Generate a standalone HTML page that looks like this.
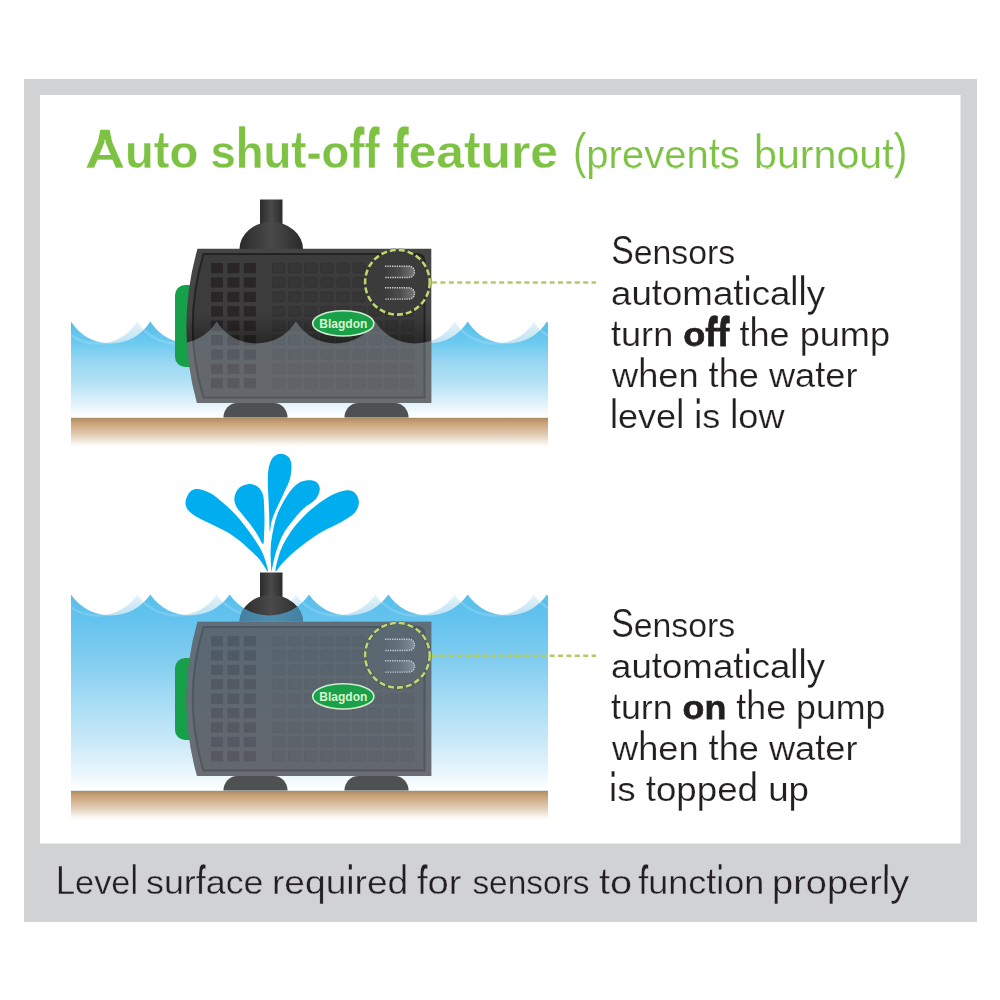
<!DOCTYPE html>
<html><head><meta charset="utf-8"><style>
html,body{margin:0;padding:0;background:#fff;}
svg{display:block;}
</style></head><body>
<svg width="1000" height="1000" viewBox="0 0 1000 1000">
<defs>
<linearGradient id="cyl" x1="0" x2="1" y1="0" y2="0">
 <stop offset="0" stop-color="#2c2c2c"/><stop offset="0.5" stop-color="#4a4a4a"/><stop offset="1" stop-color="#2c2c2c"/>
</linearGradient>
<linearGradient id="dome" x1="0" x2="1" y1="0" y2="0">
 <stop offset="0" stop-color="#2a2a2a"/><stop offset="0.5" stop-color="#4a4a4a"/><stop offset="1" stop-color="#2a2a2a"/>
</linearGradient>
<linearGradient id="bar" x1="0" x2="1" y1="0" y2="0">
 <stop offset="0" stop-color="#3c3c3c"/><stop offset="0.5" stop-color="#4c4c4c"/><stop offset="1" stop-color="#767676"/>
</linearGradient>
<linearGradient id="ground" x1="0" x2="0" y1="0" y2="1">
 <stop offset="0" stop-color="#a48762"/><stop offset="0.07" stop-color="#b8946a"/><stop offset="0.18" stop-color="#c9a275"/><stop offset="0.42" stop-color="#d9bb9c"/><stop offset="0.65" stop-color="#e6d6c3"/><stop offset="0.9" stop-color="#fbf8f4"/><stop offset="1" stop-color="#ffffff"/>
</linearGradient>
<linearGradient id="water1" gradientUnits="userSpaceOnUse" x1="0" x2="0" y1="321" y2="417">
 <stop offset="0" stop-color="#55bdea"/><stop offset="0.24" stop-color="#6ecbf0"/><stop offset="0.41" stop-color="#96d6f2"/><stop offset="0.61" stop-color="#afe0f5"/><stop offset="0.77" stop-color="#cdebf9"/><stop offset="0.93" stop-color="#f0f8fc"/><stop offset="1" stop-color="#ffffff"/>
</linearGradient>
<linearGradient id="water2" gradientUnits="userSpaceOnUse" x1="0" x2="0" y1="594" y2="790">
 <stop offset="0" stop-color="#58bfeb"/><stop offset="0.13" stop-color="#64c3ee"/><stop offset="0.34" stop-color="#82cdf0"/><stop offset="0.54" stop-color="#a5dcf5"/><stop offset="0.745" stop-color="#c8e8f8"/><stop offset="0.9" stop-color="#e6f5fc"/><stop offset="1" stop-color="#ffffff"/>
</linearGradient>
<linearGradient id="ghost1" gradientUnits="userSpaceOnUse" x1="0" x2="0" y1="321" y2="343"><stop offset="0" stop-color="#e6f3f9"/><stop offset="1" stop-color="#bfe2f3"/></linearGradient>
<linearGradient id="ghost2" gradientUnits="userSpaceOnUse" x1="0" x2="0" y1="594" y2="615"><stop offset="0" stop-color="#e6f3f9"/><stop offset="1" stop-color="#bfe2f3"/></linearGradient>
<clipPath id="wclip"><rect x="71" y="0" width="477" height="1000"/></clipPath>
</defs>
<rect x="24" y="79" width="953" height="843" fill="#d1d2d4"/>
<rect x="40" y="95" width="920.5" height="748.5" fill="#ffffff"/>

<rect x="71" y="417.5" width="477" height="30" fill="url(#ground)"/>
<g clip-path="url(#wclip)"><path d="M58.00 321.5 A46.76 46.76 0 0 0 137.33 321.5 A46.76 46.76 0 0 0 216.67 321.5 A46.76 46.76 0 0 0 296.00 321.5 A46.76 46.76 0 0 0 375.33 321.5 A46.76 46.76 0 0 0 454.67 321.5 A46.76 46.76 0 0 0 534.00 321.5 A46.76 46.76 0 0 0 613.33 321.5 L613.33 417.5 L58.00 417.5 Z" fill="url(#ghost1)"/>
<path d="M71.00 321.5 A46.76 46.76 0 0 0 150.33 321.5 A46.76 46.76 0 0 0 229.67 321.5 A46.76 46.76 0 0 0 309.00 321.5 A46.76 46.76 0 0 0 388.33 321.5 A46.76 46.76 0 0 0 467.67 321.5 A46.76 46.76 0 0 0 547.00 321.5 A46.76 46.76 0 0 0 626.33 321.5 L626.33 417.5 L71.00 417.5 Z" fill="url(#water1)"/>
<path d="M58.00 321.5 A46.76 46.76 0 0 0 137.33 321.5 A46.76 46.76 0 0 0 216.67 321.5 A46.76 46.76 0 0 0 296.00 321.5 A46.76 46.76 0 0 0 375.33 321.5 A46.76 46.76 0 0 0 454.67 321.5 A46.76 46.76 0 0 0 534.00 321.5 A46.76 46.76 0 0 0 613.33 321.5" fill="none" stroke="#ffffff" stroke-opacity="0.16" stroke-width="2.5"/></g>
<g transform="translate(0,0)">
<rect x="260" y="199.5" width="22.5" height="32" fill="url(#cyl)"/>
<path d="M239.5 249 A31.75 27 0 0 1 303 249 Z" fill="url(#dome)"/>
<rect x="175" y="285" width="24" height="82" rx="10" ry="10" fill="#17a04a"/>
<path d="M223.5 417.5 A13.5 14.5 0 0 1 237.0 403 L274.0 403 A13.5 14.5 0 0 1 287.5 417.5 Z" fill="#4f5052"/>
<path d="M344.5 417.5 A13.5 14.5 0 0 1 358.0 403 L395.0 403 A13.5 14.5 0 0 1 408.5 417.5 Z" fill="#4f5052"/>
<path d="M197.5 248.7 L431.3 248.7 L431.3 403 L197 403 Q175.5 326 197.5 248.7 Z" fill="#454545"/>
<path d="M203.5 254 L416 254 Q424.5 254 424.5 262 L424.5 397.5 L203.5 397.5 Q182 326 203.5 254 Z" fill="#3c3c3c" stroke="#232323" stroke-width="2"/>
<rect x="211.0" y="263.0" width="12" height="10.2" fill="#2a2627"/>
<rect x="227.4" y="263.0" width="12" height="10.2" fill="#2a2627"/>
<rect x="243.8" y="263.0" width="12" height="10.2" fill="#2a2627"/>
<rect x="272.5" y="263.3" width="12.2" height="9.6" rx="1.2" fill="#363636" stroke="#313131" stroke-width="0.8"/>
<rect x="288.6" y="263.3" width="12.2" height="9.6" rx="1.2" fill="#363636" stroke="#313131" stroke-width="0.8"/>
<rect x="304.7" y="263.3" width="12.2" height="9.6" rx="1.2" fill="#363636" stroke="#313131" stroke-width="0.8"/>
<rect x="320.8" y="263.3" width="12.2" height="9.6" rx="1.2" fill="#363636" stroke="#313131" stroke-width="0.8"/>
<rect x="336.9" y="263.3" width="12.2" height="9.6" rx="1.2" fill="#363636" stroke="#313131" stroke-width="0.8"/>
<rect x="353.0" y="263.3" width="12.2" height="9.6" rx="1.2" fill="#363636" stroke="#313131" stroke-width="0.8"/>
<rect x="369.1" y="263.3" width="12.2" height="9.6" rx="1.2" fill="#363636" stroke="#313131" stroke-width="0.8"/>
<rect x="385.2" y="263.3" width="12.2" height="9.6" rx="1.2" fill="#363636" stroke="#313131" stroke-width="0.8"/>
<rect x="401.3" y="263.3" width="12.2" height="9.6" rx="1.2" fill="#363636" stroke="#313131" stroke-width="0.8"/>
<rect x="211.0" y="277.4" width="12" height="10.2" fill="#2a2627"/>
<rect x="227.4" y="277.4" width="12" height="10.2" fill="#2a2627"/>
<rect x="243.8" y="277.4" width="12" height="10.2" fill="#2a2627"/>
<rect x="272.5" y="277.7" width="12.2" height="9.6" rx="1.2" fill="#363636" stroke="#313131" stroke-width="0.8"/>
<rect x="288.6" y="277.7" width="12.2" height="9.6" rx="1.2" fill="#363636" stroke="#313131" stroke-width="0.8"/>
<rect x="304.7" y="277.7" width="12.2" height="9.6" rx="1.2" fill="#363636" stroke="#313131" stroke-width="0.8"/>
<rect x="320.8" y="277.7" width="12.2" height="9.6" rx="1.2" fill="#363636" stroke="#313131" stroke-width="0.8"/>
<rect x="336.9" y="277.7" width="12.2" height="9.6" rx="1.2" fill="#363636" stroke="#313131" stroke-width="0.8"/>
<rect x="353.0" y="277.7" width="12.2" height="9.6" rx="1.2" fill="#363636" stroke="#313131" stroke-width="0.8"/>
<rect x="369.1" y="277.7" width="12.2" height="9.6" rx="1.2" fill="#363636" stroke="#313131" stroke-width="0.8"/>
<rect x="385.2" y="277.7" width="12.2" height="9.6" rx="1.2" fill="#363636" stroke="#313131" stroke-width="0.8"/>
<rect x="401.3" y="277.7" width="12.2" height="9.6" rx="1.2" fill="#363636" stroke="#313131" stroke-width="0.8"/>
<rect x="211.0" y="291.8" width="12" height="10.2" fill="#2a2627"/>
<rect x="227.4" y="291.8" width="12" height="10.2" fill="#2a2627"/>
<rect x="243.8" y="291.8" width="12" height="10.2" fill="#2a2627"/>
<rect x="272.5" y="292.1" width="12.2" height="9.6" rx="1.2" fill="#363636" stroke="#313131" stroke-width="0.8"/>
<rect x="288.6" y="292.1" width="12.2" height="9.6" rx="1.2" fill="#363636" stroke="#313131" stroke-width="0.8"/>
<rect x="304.7" y="292.1" width="12.2" height="9.6" rx="1.2" fill="#363636" stroke="#313131" stroke-width="0.8"/>
<rect x="320.8" y="292.1" width="12.2" height="9.6" rx="1.2" fill="#363636" stroke="#313131" stroke-width="0.8"/>
<rect x="336.9" y="292.1" width="12.2" height="9.6" rx="1.2" fill="#363636" stroke="#313131" stroke-width="0.8"/>
<rect x="353.0" y="292.1" width="12.2" height="9.6" rx="1.2" fill="#363636" stroke="#313131" stroke-width="0.8"/>
<rect x="369.1" y="292.1" width="12.2" height="9.6" rx="1.2" fill="#363636" stroke="#313131" stroke-width="0.8"/>
<rect x="385.2" y="292.1" width="12.2" height="9.6" rx="1.2" fill="#363636" stroke="#313131" stroke-width="0.8"/>
<rect x="401.3" y="292.1" width="12.2" height="9.6" rx="1.2" fill="#363636" stroke="#313131" stroke-width="0.8"/>
<rect x="211.0" y="306.2" width="12" height="10.2" fill="#2a2627"/>
<rect x="227.4" y="306.2" width="12" height="10.2" fill="#2a2627"/>
<rect x="243.8" y="306.2" width="12" height="10.2" fill="#2a2627"/>
<rect x="272.5" y="306.5" width="12.2" height="9.6" rx="1.2" fill="#363636" stroke="#313131" stroke-width="0.8"/>
<rect x="288.6" y="306.5" width="12.2" height="9.6" rx="1.2" fill="#363636" stroke="#313131" stroke-width="0.8"/>
<rect x="304.7" y="306.5" width="12.2" height="9.6" rx="1.2" fill="#363636" stroke="#313131" stroke-width="0.8"/>
<rect x="320.8" y="306.5" width="12.2" height="9.6" rx="1.2" fill="#363636" stroke="#313131" stroke-width="0.8"/>
<rect x="336.9" y="306.5" width="12.2" height="9.6" rx="1.2" fill="#363636" stroke="#313131" stroke-width="0.8"/>
<rect x="353.0" y="306.5" width="12.2" height="9.6" rx="1.2" fill="#363636" stroke="#313131" stroke-width="0.8"/>
<rect x="369.1" y="306.5" width="12.2" height="9.6" rx="1.2" fill="#363636" stroke="#313131" stroke-width="0.8"/>
<rect x="385.2" y="306.5" width="12.2" height="9.6" rx="1.2" fill="#363636" stroke="#313131" stroke-width="0.8"/>
<rect x="401.3" y="306.5" width="12.2" height="9.6" rx="1.2" fill="#363636" stroke="#313131" stroke-width="0.8"/>
<rect x="211.0" y="320.6" width="12" height="10.2" fill="#2a2627"/>
<rect x="227.4" y="320.6" width="12" height="10.2" fill="#2a2627"/>
<rect x="243.8" y="320.6" width="12" height="10.2" fill="#2a2627"/>
<rect x="272.5" y="320.9" width="12.2" height="9.6" rx="1.2" fill="#363636" stroke="#313131" stroke-width="0.8"/>
<rect x="288.6" y="320.9" width="12.2" height="9.6" rx="1.2" fill="#363636" stroke="#313131" stroke-width="0.8"/>
<rect x="304.7" y="320.9" width="12.2" height="9.6" rx="1.2" fill="#363636" stroke="#313131" stroke-width="0.8"/>
<rect x="320.8" y="320.9" width="12.2" height="9.6" rx="1.2" fill="#363636" stroke="#313131" stroke-width="0.8"/>
<rect x="336.9" y="320.9" width="12.2" height="9.6" rx="1.2" fill="#363636" stroke="#313131" stroke-width="0.8"/>
<rect x="353.0" y="320.9" width="12.2" height="9.6" rx="1.2" fill="#363636" stroke="#313131" stroke-width="0.8"/>
<rect x="369.1" y="320.9" width="12.2" height="9.6" rx="1.2" fill="#363636" stroke="#313131" stroke-width="0.8"/>
<rect x="385.2" y="320.9" width="12.2" height="9.6" rx="1.2" fill="#363636" stroke="#313131" stroke-width="0.8"/>
<rect x="401.3" y="320.9" width="12.2" height="9.6" rx="1.2" fill="#363636" stroke="#313131" stroke-width="0.8"/>
<rect x="211.0" y="335.0" width="12" height="10.2" fill="#2a2627"/>
<rect x="227.4" y="335.0" width="12" height="10.2" fill="#2a2627"/>
<rect x="243.8" y="335.0" width="12" height="10.2" fill="#2a2627"/>
<rect x="272.5" y="335.3" width="12.2" height="9.6" rx="1.2" fill="#363636" stroke="#313131" stroke-width="0.8"/>
<rect x="288.6" y="335.3" width="12.2" height="9.6" rx="1.2" fill="#363636" stroke="#313131" stroke-width="0.8"/>
<rect x="304.7" y="335.3" width="12.2" height="9.6" rx="1.2" fill="#363636" stroke="#313131" stroke-width="0.8"/>
<rect x="320.8" y="335.3" width="12.2" height="9.6" rx="1.2" fill="#363636" stroke="#313131" stroke-width="0.8"/>
<rect x="336.9" y="335.3" width="12.2" height="9.6" rx="1.2" fill="#363636" stroke="#313131" stroke-width="0.8"/>
<rect x="353.0" y="335.3" width="12.2" height="9.6" rx="1.2" fill="#363636" stroke="#313131" stroke-width="0.8"/>
<rect x="369.1" y="335.3" width="12.2" height="9.6" rx="1.2" fill="#363636" stroke="#313131" stroke-width="0.8"/>
<rect x="385.2" y="335.3" width="12.2" height="9.6" rx="1.2" fill="#363636" stroke="#313131" stroke-width="0.8"/>
<rect x="401.3" y="335.3" width="12.2" height="9.6" rx="1.2" fill="#363636" stroke="#313131" stroke-width="0.8"/>
<rect x="211.0" y="349.4" width="12" height="10.2" fill="#2a2627"/>
<rect x="227.4" y="349.4" width="12" height="10.2" fill="#2a2627"/>
<rect x="243.8" y="349.4" width="12" height="10.2" fill="#2a2627"/>
<rect x="272.5" y="349.7" width="12.2" height="9.6" rx="1.2" fill="#363636" stroke="#313131" stroke-width="0.8"/>
<rect x="288.6" y="349.7" width="12.2" height="9.6" rx="1.2" fill="#363636" stroke="#313131" stroke-width="0.8"/>
<rect x="304.7" y="349.7" width="12.2" height="9.6" rx="1.2" fill="#363636" stroke="#313131" stroke-width="0.8"/>
<rect x="320.8" y="349.7" width="12.2" height="9.6" rx="1.2" fill="#363636" stroke="#313131" stroke-width="0.8"/>
<rect x="336.9" y="349.7" width="12.2" height="9.6" rx="1.2" fill="#363636" stroke="#313131" stroke-width="0.8"/>
<rect x="353.0" y="349.7" width="12.2" height="9.6" rx="1.2" fill="#363636" stroke="#313131" stroke-width="0.8"/>
<rect x="369.1" y="349.7" width="12.2" height="9.6" rx="1.2" fill="#363636" stroke="#313131" stroke-width="0.8"/>
<rect x="385.2" y="349.7" width="12.2" height="9.6" rx="1.2" fill="#363636" stroke="#313131" stroke-width="0.8"/>
<rect x="401.3" y="349.7" width="12.2" height="9.6" rx="1.2" fill="#363636" stroke="#313131" stroke-width="0.8"/>
<rect x="211.0" y="363.8" width="12" height="10.2" fill="#2a2627"/>
<rect x="227.4" y="363.8" width="12" height="10.2" fill="#2a2627"/>
<rect x="243.8" y="363.8" width="12" height="10.2" fill="#2a2627"/>
<rect x="272.5" y="364.1" width="12.2" height="9.6" rx="1.2" fill="#363636" stroke="#313131" stroke-width="0.8"/>
<rect x="288.6" y="364.1" width="12.2" height="9.6" rx="1.2" fill="#363636" stroke="#313131" stroke-width="0.8"/>
<rect x="304.7" y="364.1" width="12.2" height="9.6" rx="1.2" fill="#363636" stroke="#313131" stroke-width="0.8"/>
<rect x="320.8" y="364.1" width="12.2" height="9.6" rx="1.2" fill="#363636" stroke="#313131" stroke-width="0.8"/>
<rect x="336.9" y="364.1" width="12.2" height="9.6" rx="1.2" fill="#363636" stroke="#313131" stroke-width="0.8"/>
<rect x="353.0" y="364.1" width="12.2" height="9.6" rx="1.2" fill="#363636" stroke="#313131" stroke-width="0.8"/>
<rect x="369.1" y="364.1" width="12.2" height="9.6" rx="1.2" fill="#363636" stroke="#313131" stroke-width="0.8"/>
<rect x="385.2" y="364.1" width="12.2" height="9.6" rx="1.2" fill="#363636" stroke="#313131" stroke-width="0.8"/>
<rect x="401.3" y="364.1" width="12.2" height="9.6" rx="1.2" fill="#363636" stroke="#313131" stroke-width="0.8"/>
<rect x="211.0" y="378.2" width="12" height="10.2" fill="#2a2627"/>
<rect x="227.4" y="378.2" width="12" height="10.2" fill="#2a2627"/>
<rect x="243.8" y="378.2" width="12" height="10.2" fill="#2a2627"/>
<rect x="272.5" y="378.5" width="12.2" height="9.6" rx="1.2" fill="#363636" stroke="#313131" stroke-width="0.8"/>
<rect x="288.6" y="378.5" width="12.2" height="9.6" rx="1.2" fill="#363636" stroke="#313131" stroke-width="0.8"/>
<rect x="304.7" y="378.5" width="12.2" height="9.6" rx="1.2" fill="#363636" stroke="#313131" stroke-width="0.8"/>
<rect x="320.8" y="378.5" width="12.2" height="9.6" rx="1.2" fill="#363636" stroke="#313131" stroke-width="0.8"/>
<rect x="336.9" y="378.5" width="12.2" height="9.6" rx="1.2" fill="#363636" stroke="#313131" stroke-width="0.8"/>
<rect x="353.0" y="378.5" width="12.2" height="9.6" rx="1.2" fill="#363636" stroke="#313131" stroke-width="0.8"/>
<rect x="369.1" y="378.5" width="12.2" height="9.6" rx="1.2" fill="#363636" stroke="#313131" stroke-width="0.8"/>
<rect x="385.2" y="378.5" width="12.2" height="9.6" rx="1.2" fill="#363636" stroke="#313131" stroke-width="0.8"/>
<rect x="401.3" y="378.5" width="12.2" height="9.6" rx="1.2" fill="#363636" stroke="#313131" stroke-width="0.8"/>
<circle cx="397.4" cy="282.3" r="31" fill="#3b3b3b"/>
<path d="M385 266.2 L408.9 266.2 A5.65 5.65 0 0 1 408.9 277.5 L385 277.5 Z" fill="url(#bar)"/>
<path d="M385 266.2 L408.9 266.2 A5.65 5.65 0 0 1 408.9 277.5 L385 277.5" fill="none" stroke="#d4d4d4" stroke-width="1.4" stroke-dasharray="1.3 1.05"/>
<path d="M385 287.8 L408.9 287.8 A5.65 5.65 0 0 1 408.9 299.1 L385 299.1 Z" fill="url(#bar)"/>
<path d="M385 287.8 L408.9 287.8 A5.65 5.65 0 0 1 408.9 299.1 L385 299.1" fill="none" stroke="#d4d4d4" stroke-width="1.4" stroke-dasharray="1.3 1.05"/>
</g>
<clipPath id="bclip0"><path transform="translate(0,0)" d="M197.5 248.7 L431.3 248.7 L431.3 403 L197 403 Q175.5 326 197.5 248.7 Z"/></clipPath>
<clipPath id="dclip0"><path transform="translate(0,0)" d="M239.5 249 A31.75 27 0 0 1 303 249 Z"/></clipPath>
<linearGradient id="shad0" gradientUnits="userSpaceOnUse" x1="0" x2="0" y1="313.5" y2="343.5"><stop offset="0" stop-color="#000" stop-opacity="0"/><stop offset="1" stop-color="#000" stop-opacity="0.32"/></linearGradient>
<path clip-path="url(#bclip0)" fill-rule="evenodd" d="M150 311.5 L500 311.5 L500 344.0 L150 344.0 Z M137.33 321.5 A46.76 46.76 0 0 0 216.67 321.5 A46.76 46.76 0 0 0 296.00 321.5 A46.76 46.76 0 0 0 375.33 321.5 A46.76 46.76 0 0 0 454.67 321.5 A46.76 46.76 0 0 0 534.00 321.5 L534.00 344.0 L137.33 344.0 Z" fill="url(#shad0)"/>
<linearGradient id="ovg0" gradientUnits="userSpaceOnUse" x1="0" x2="0" y1="321.5" y2="403"><stop offset="0" stop-color="rgb(168,190,205)"/><stop offset="1" stop-color="rgb(180,186,200)"/></linearGradient>
<path clip-path="url(#bclip0)" d="M137.33 321.5 A46.76 46.76 0 0 0 216.67 321.5 A46.76 46.76 0 0 0 296.00 321.5 A46.76 46.76 0 0 0 375.33 321.5 A46.76 46.76 0 0 0 454.67 321.5 A46.76 46.76 0 0 0 534.00 321.5 L534.00 410 L137.33 410 Z" fill="url(#ovg0)" fill-opacity="0.34"/>
<path clip-path="url(#dclip0)" d="M71.00 321.5 A46.76 46.76 0 0 0 150.33 321.5 A46.76 46.76 0 0 0 229.67 321.5 A46.76 46.76 0 0 0 309.00 321.5 A46.76 46.76 0 0 0 388.33 321.5 A46.76 46.76 0 0 0 467.67 321.5 A46.76 46.76 0 0 0 547.00 321.5 L547.00 410 L71.00 410 Z" fill="rgb(83,183,237)" fill-opacity="0.62"/>
<g transform="translate(0,0)">
<ellipse cx="343.3" cy="323.4" rx="30.6" ry="12.6" fill="#1aa048" stroke="#cdeccd" stroke-width="1.6"/>
<text x="343.3" y="328" font-family="Liberation Sans, sans-serif" font-weight="bold" font-size="12.5" fill="#d8f5cf" text-anchor="middle" textLength="48" lengthAdjust="spacingAndGlyphs">Blagdon</text>
<circle cx="397.4" cy="282.3" r="32.3" fill="none" stroke="#2a2d22" stroke-width="3.6" stroke-dasharray="6.6 2.42" stroke-dashoffset="0.3" stroke-opacity="0.5"/>
<circle cx="397.4" cy="282.3" r="32.3" fill="none" stroke="#bfd672" stroke-width="2.6" stroke-dasharray="6 3.02"/>
</g>
<rect x="71" y="790.5" width="477" height="30" fill="url(#ground)"/>
<g clip-path="url(#wclip)"><path d="M58.00 594.5 A47.96 47.96 0 0 0 137.33 594.5 A47.96 47.96 0 0 0 216.67 594.5 A47.96 47.96 0 0 0 296.00 594.5 A47.96 47.96 0 0 0 375.33 594.5 A47.96 47.96 0 0 0 454.67 594.5 A47.96 47.96 0 0 0 534.00 594.5 A47.96 47.96 0 0 0 613.33 594.5 L613.33 790.5 L58.00 790.5 Z" fill="url(#ghost2)"/>
<path d="M71.00 594.5 A47.96 47.96 0 0 0 150.33 594.5 A47.96 47.96 0 0 0 229.67 594.5 A47.96 47.96 0 0 0 309.00 594.5 A47.96 47.96 0 0 0 388.33 594.5 A47.96 47.96 0 0 0 467.67 594.5 A47.96 47.96 0 0 0 547.00 594.5 A47.96 47.96 0 0 0 626.33 594.5 L626.33 790.5 L71.00 790.5 Z" fill="url(#water2)"/>
<path d="M58.00 594.5 A47.96 47.96 0 0 0 137.33 594.5 A47.96 47.96 0 0 0 216.67 594.5 A47.96 47.96 0 0 0 296.00 594.5 A47.96 47.96 0 0 0 375.33 594.5 A47.96 47.96 0 0 0 454.67 594.5 A47.96 47.96 0 0 0 534.00 594.5 A47.96 47.96 0 0 0 613.33 594.5" fill="none" stroke="#ffffff" stroke-opacity="0.16" stroke-width="2.5"/></g>
<g transform="translate(0,373)">
<rect x="260" y="199.5" width="22.5" height="32" fill="url(#cyl)"/>
<path d="M239.5 249 A31.75 27 0 0 1 303 249 Z" fill="url(#dome)"/>
<rect x="175" y="285" width="24" height="82" rx="10" ry="10" fill="#17a04a"/>
<path d="M223.5 417.5 A13.5 14.5 0 0 1 237.0 403 L274.0 403 A13.5 14.5 0 0 1 287.5 417.5 Z" fill="#4f5052"/>
<path d="M344.5 417.5 A13.5 14.5 0 0 1 358.0 403 L395.0 403 A13.5 14.5 0 0 1 408.5 417.5 Z" fill="#4f5052"/>
<path d="M197.5 248.7 L431.3 248.7 L431.3 403 L197 403 Q175.5 326 197.5 248.7 Z" fill="#454545"/>
<path d="M203.5 254 L416 254 Q424.5 254 424.5 262 L424.5 397.5 L203.5 397.5 Q182 326 203.5 254 Z" fill="#3c3c3c" stroke="#232323" stroke-width="2"/>
<rect x="211.0" y="263.0" width="12" height="10.2" fill="#2a2627"/>
<rect x="227.4" y="263.0" width="12" height="10.2" fill="#2a2627"/>
<rect x="243.8" y="263.0" width="12" height="10.2" fill="#2a2627"/>
<rect x="272.5" y="263.3" width="12.2" height="9.6" rx="1.2" fill="#363636" stroke="#313131" stroke-width="0.8"/>
<rect x="288.6" y="263.3" width="12.2" height="9.6" rx="1.2" fill="#363636" stroke="#313131" stroke-width="0.8"/>
<rect x="304.7" y="263.3" width="12.2" height="9.6" rx="1.2" fill="#363636" stroke="#313131" stroke-width="0.8"/>
<rect x="320.8" y="263.3" width="12.2" height="9.6" rx="1.2" fill="#363636" stroke="#313131" stroke-width="0.8"/>
<rect x="336.9" y="263.3" width="12.2" height="9.6" rx="1.2" fill="#363636" stroke="#313131" stroke-width="0.8"/>
<rect x="353.0" y="263.3" width="12.2" height="9.6" rx="1.2" fill="#363636" stroke="#313131" stroke-width="0.8"/>
<rect x="369.1" y="263.3" width="12.2" height="9.6" rx="1.2" fill="#363636" stroke="#313131" stroke-width="0.8"/>
<rect x="385.2" y="263.3" width="12.2" height="9.6" rx="1.2" fill="#363636" stroke="#313131" stroke-width="0.8"/>
<rect x="401.3" y="263.3" width="12.2" height="9.6" rx="1.2" fill="#363636" stroke="#313131" stroke-width="0.8"/>
<rect x="211.0" y="277.4" width="12" height="10.2" fill="#2a2627"/>
<rect x="227.4" y="277.4" width="12" height="10.2" fill="#2a2627"/>
<rect x="243.8" y="277.4" width="12" height="10.2" fill="#2a2627"/>
<rect x="272.5" y="277.7" width="12.2" height="9.6" rx="1.2" fill="#363636" stroke="#313131" stroke-width="0.8"/>
<rect x="288.6" y="277.7" width="12.2" height="9.6" rx="1.2" fill="#363636" stroke="#313131" stroke-width="0.8"/>
<rect x="304.7" y="277.7" width="12.2" height="9.6" rx="1.2" fill="#363636" stroke="#313131" stroke-width="0.8"/>
<rect x="320.8" y="277.7" width="12.2" height="9.6" rx="1.2" fill="#363636" stroke="#313131" stroke-width="0.8"/>
<rect x="336.9" y="277.7" width="12.2" height="9.6" rx="1.2" fill="#363636" stroke="#313131" stroke-width="0.8"/>
<rect x="353.0" y="277.7" width="12.2" height="9.6" rx="1.2" fill="#363636" stroke="#313131" stroke-width="0.8"/>
<rect x="369.1" y="277.7" width="12.2" height="9.6" rx="1.2" fill="#363636" stroke="#313131" stroke-width="0.8"/>
<rect x="385.2" y="277.7" width="12.2" height="9.6" rx="1.2" fill="#363636" stroke="#313131" stroke-width="0.8"/>
<rect x="401.3" y="277.7" width="12.2" height="9.6" rx="1.2" fill="#363636" stroke="#313131" stroke-width="0.8"/>
<rect x="211.0" y="291.8" width="12" height="10.2" fill="#2a2627"/>
<rect x="227.4" y="291.8" width="12" height="10.2" fill="#2a2627"/>
<rect x="243.8" y="291.8" width="12" height="10.2" fill="#2a2627"/>
<rect x="272.5" y="292.1" width="12.2" height="9.6" rx="1.2" fill="#363636" stroke="#313131" stroke-width="0.8"/>
<rect x="288.6" y="292.1" width="12.2" height="9.6" rx="1.2" fill="#363636" stroke="#313131" stroke-width="0.8"/>
<rect x="304.7" y="292.1" width="12.2" height="9.6" rx="1.2" fill="#363636" stroke="#313131" stroke-width="0.8"/>
<rect x="320.8" y="292.1" width="12.2" height="9.6" rx="1.2" fill="#363636" stroke="#313131" stroke-width="0.8"/>
<rect x="336.9" y="292.1" width="12.2" height="9.6" rx="1.2" fill="#363636" stroke="#313131" stroke-width="0.8"/>
<rect x="353.0" y="292.1" width="12.2" height="9.6" rx="1.2" fill="#363636" stroke="#313131" stroke-width="0.8"/>
<rect x="369.1" y="292.1" width="12.2" height="9.6" rx="1.2" fill="#363636" stroke="#313131" stroke-width="0.8"/>
<rect x="385.2" y="292.1" width="12.2" height="9.6" rx="1.2" fill="#363636" stroke="#313131" stroke-width="0.8"/>
<rect x="401.3" y="292.1" width="12.2" height="9.6" rx="1.2" fill="#363636" stroke="#313131" stroke-width="0.8"/>
<rect x="211.0" y="306.2" width="12" height="10.2" fill="#2a2627"/>
<rect x="227.4" y="306.2" width="12" height="10.2" fill="#2a2627"/>
<rect x="243.8" y="306.2" width="12" height="10.2" fill="#2a2627"/>
<rect x="272.5" y="306.5" width="12.2" height="9.6" rx="1.2" fill="#363636" stroke="#313131" stroke-width="0.8"/>
<rect x="288.6" y="306.5" width="12.2" height="9.6" rx="1.2" fill="#363636" stroke="#313131" stroke-width="0.8"/>
<rect x="304.7" y="306.5" width="12.2" height="9.6" rx="1.2" fill="#363636" stroke="#313131" stroke-width="0.8"/>
<rect x="320.8" y="306.5" width="12.2" height="9.6" rx="1.2" fill="#363636" stroke="#313131" stroke-width="0.8"/>
<rect x="336.9" y="306.5" width="12.2" height="9.6" rx="1.2" fill="#363636" stroke="#313131" stroke-width="0.8"/>
<rect x="353.0" y="306.5" width="12.2" height="9.6" rx="1.2" fill="#363636" stroke="#313131" stroke-width="0.8"/>
<rect x="369.1" y="306.5" width="12.2" height="9.6" rx="1.2" fill="#363636" stroke="#313131" stroke-width="0.8"/>
<rect x="385.2" y="306.5" width="12.2" height="9.6" rx="1.2" fill="#363636" stroke="#313131" stroke-width="0.8"/>
<rect x="401.3" y="306.5" width="12.2" height="9.6" rx="1.2" fill="#363636" stroke="#313131" stroke-width="0.8"/>
<rect x="211.0" y="320.6" width="12" height="10.2" fill="#2a2627"/>
<rect x="227.4" y="320.6" width="12" height="10.2" fill="#2a2627"/>
<rect x="243.8" y="320.6" width="12" height="10.2" fill="#2a2627"/>
<rect x="272.5" y="320.9" width="12.2" height="9.6" rx="1.2" fill="#363636" stroke="#313131" stroke-width="0.8"/>
<rect x="288.6" y="320.9" width="12.2" height="9.6" rx="1.2" fill="#363636" stroke="#313131" stroke-width="0.8"/>
<rect x="304.7" y="320.9" width="12.2" height="9.6" rx="1.2" fill="#363636" stroke="#313131" stroke-width="0.8"/>
<rect x="320.8" y="320.9" width="12.2" height="9.6" rx="1.2" fill="#363636" stroke="#313131" stroke-width="0.8"/>
<rect x="336.9" y="320.9" width="12.2" height="9.6" rx="1.2" fill="#363636" stroke="#313131" stroke-width="0.8"/>
<rect x="353.0" y="320.9" width="12.2" height="9.6" rx="1.2" fill="#363636" stroke="#313131" stroke-width="0.8"/>
<rect x="369.1" y="320.9" width="12.2" height="9.6" rx="1.2" fill="#363636" stroke="#313131" stroke-width="0.8"/>
<rect x="385.2" y="320.9" width="12.2" height="9.6" rx="1.2" fill="#363636" stroke="#313131" stroke-width="0.8"/>
<rect x="401.3" y="320.9" width="12.2" height="9.6" rx="1.2" fill="#363636" stroke="#313131" stroke-width="0.8"/>
<rect x="211.0" y="335.0" width="12" height="10.2" fill="#2a2627"/>
<rect x="227.4" y="335.0" width="12" height="10.2" fill="#2a2627"/>
<rect x="243.8" y="335.0" width="12" height="10.2" fill="#2a2627"/>
<rect x="272.5" y="335.3" width="12.2" height="9.6" rx="1.2" fill="#363636" stroke="#313131" stroke-width="0.8"/>
<rect x="288.6" y="335.3" width="12.2" height="9.6" rx="1.2" fill="#363636" stroke="#313131" stroke-width="0.8"/>
<rect x="304.7" y="335.3" width="12.2" height="9.6" rx="1.2" fill="#363636" stroke="#313131" stroke-width="0.8"/>
<rect x="320.8" y="335.3" width="12.2" height="9.6" rx="1.2" fill="#363636" stroke="#313131" stroke-width="0.8"/>
<rect x="336.9" y="335.3" width="12.2" height="9.6" rx="1.2" fill="#363636" stroke="#313131" stroke-width="0.8"/>
<rect x="353.0" y="335.3" width="12.2" height="9.6" rx="1.2" fill="#363636" stroke="#313131" stroke-width="0.8"/>
<rect x="369.1" y="335.3" width="12.2" height="9.6" rx="1.2" fill="#363636" stroke="#313131" stroke-width="0.8"/>
<rect x="385.2" y="335.3" width="12.2" height="9.6" rx="1.2" fill="#363636" stroke="#313131" stroke-width="0.8"/>
<rect x="401.3" y="335.3" width="12.2" height="9.6" rx="1.2" fill="#363636" stroke="#313131" stroke-width="0.8"/>
<rect x="211.0" y="349.4" width="12" height="10.2" fill="#2a2627"/>
<rect x="227.4" y="349.4" width="12" height="10.2" fill="#2a2627"/>
<rect x="243.8" y="349.4" width="12" height="10.2" fill="#2a2627"/>
<rect x="272.5" y="349.7" width="12.2" height="9.6" rx="1.2" fill="#363636" stroke="#313131" stroke-width="0.8"/>
<rect x="288.6" y="349.7" width="12.2" height="9.6" rx="1.2" fill="#363636" stroke="#313131" stroke-width="0.8"/>
<rect x="304.7" y="349.7" width="12.2" height="9.6" rx="1.2" fill="#363636" stroke="#313131" stroke-width="0.8"/>
<rect x="320.8" y="349.7" width="12.2" height="9.6" rx="1.2" fill="#363636" stroke="#313131" stroke-width="0.8"/>
<rect x="336.9" y="349.7" width="12.2" height="9.6" rx="1.2" fill="#363636" stroke="#313131" stroke-width="0.8"/>
<rect x="353.0" y="349.7" width="12.2" height="9.6" rx="1.2" fill="#363636" stroke="#313131" stroke-width="0.8"/>
<rect x="369.1" y="349.7" width="12.2" height="9.6" rx="1.2" fill="#363636" stroke="#313131" stroke-width="0.8"/>
<rect x="385.2" y="349.7" width="12.2" height="9.6" rx="1.2" fill="#363636" stroke="#313131" stroke-width="0.8"/>
<rect x="401.3" y="349.7" width="12.2" height="9.6" rx="1.2" fill="#363636" stroke="#313131" stroke-width="0.8"/>
<rect x="211.0" y="363.8" width="12" height="10.2" fill="#2a2627"/>
<rect x="227.4" y="363.8" width="12" height="10.2" fill="#2a2627"/>
<rect x="243.8" y="363.8" width="12" height="10.2" fill="#2a2627"/>
<rect x="272.5" y="364.1" width="12.2" height="9.6" rx="1.2" fill="#363636" stroke="#313131" stroke-width="0.8"/>
<rect x="288.6" y="364.1" width="12.2" height="9.6" rx="1.2" fill="#363636" stroke="#313131" stroke-width="0.8"/>
<rect x="304.7" y="364.1" width="12.2" height="9.6" rx="1.2" fill="#363636" stroke="#313131" stroke-width="0.8"/>
<rect x="320.8" y="364.1" width="12.2" height="9.6" rx="1.2" fill="#363636" stroke="#313131" stroke-width="0.8"/>
<rect x="336.9" y="364.1" width="12.2" height="9.6" rx="1.2" fill="#363636" stroke="#313131" stroke-width="0.8"/>
<rect x="353.0" y="364.1" width="12.2" height="9.6" rx="1.2" fill="#363636" stroke="#313131" stroke-width="0.8"/>
<rect x="369.1" y="364.1" width="12.2" height="9.6" rx="1.2" fill="#363636" stroke="#313131" stroke-width="0.8"/>
<rect x="385.2" y="364.1" width="12.2" height="9.6" rx="1.2" fill="#363636" stroke="#313131" stroke-width="0.8"/>
<rect x="401.3" y="364.1" width="12.2" height="9.6" rx="1.2" fill="#363636" stroke="#313131" stroke-width="0.8"/>
<rect x="211.0" y="378.2" width="12" height="10.2" fill="#2a2627"/>
<rect x="227.4" y="378.2" width="12" height="10.2" fill="#2a2627"/>
<rect x="243.8" y="378.2" width="12" height="10.2" fill="#2a2627"/>
<rect x="272.5" y="378.5" width="12.2" height="9.6" rx="1.2" fill="#363636" stroke="#313131" stroke-width="0.8"/>
<rect x="288.6" y="378.5" width="12.2" height="9.6" rx="1.2" fill="#363636" stroke="#313131" stroke-width="0.8"/>
<rect x="304.7" y="378.5" width="12.2" height="9.6" rx="1.2" fill="#363636" stroke="#313131" stroke-width="0.8"/>
<rect x="320.8" y="378.5" width="12.2" height="9.6" rx="1.2" fill="#363636" stroke="#313131" stroke-width="0.8"/>
<rect x="336.9" y="378.5" width="12.2" height="9.6" rx="1.2" fill="#363636" stroke="#313131" stroke-width="0.8"/>
<rect x="353.0" y="378.5" width="12.2" height="9.6" rx="1.2" fill="#363636" stroke="#313131" stroke-width="0.8"/>
<rect x="369.1" y="378.5" width="12.2" height="9.6" rx="1.2" fill="#363636" stroke="#313131" stroke-width="0.8"/>
<rect x="385.2" y="378.5" width="12.2" height="9.6" rx="1.2" fill="#363636" stroke="#313131" stroke-width="0.8"/>
<rect x="401.3" y="378.5" width="12.2" height="9.6" rx="1.2" fill="#363636" stroke="#313131" stroke-width="0.8"/>
<circle cx="397.4" cy="282.3" r="31" fill="#3b3b3b"/>
<path d="M385 266.2 L408.9 266.2 A5.65 5.65 0 0 1 408.9 277.5 L385 277.5 Z" fill="url(#bar)"/>
<path d="M385 266.2 L408.9 266.2 A5.65 5.65 0 0 1 408.9 277.5 L385 277.5" fill="none" stroke="#d4d4d4" stroke-width="1.4" stroke-dasharray="1.3 1.05"/>
<path d="M385 287.8 L408.9 287.8 A5.65 5.65 0 0 1 408.9 299.1 L385 299.1 Z" fill="url(#bar)"/>
<path d="M385 287.8 L408.9 287.8 A5.65 5.65 0 0 1 408.9 299.1 L385 299.1" fill="none" stroke="#d4d4d4" stroke-width="1.4" stroke-dasharray="1.3 1.05"/>
</g>
<clipPath id="bclip373"><path transform="translate(0,373)" d="M197.5 248.7 L431.3 248.7 L431.3 403 L197 403 Q175.5 326 197.5 248.7 Z"/></clipPath>
<clipPath id="dclip373"><path transform="translate(0,373)" d="M239.5 249 A31.75 27 0 0 1 303 249 Z"/></clipPath>
<linearGradient id="ovg373" gradientUnits="userSpaceOnUse" x1="0" x2="0" y1="594.5" y2="776"><stop offset="0" stop-color="rgb(140,192,224)"/><stop offset="1" stop-color="rgb(178,186,206)"/></linearGradient>
<path clip-path="url(#bclip373)" d="M137.33 594.5 A47.96 47.96 0 0 0 216.67 594.5 A47.96 47.96 0 0 0 296.00 594.5 A47.96 47.96 0 0 0 375.33 594.5 A47.96 47.96 0 0 0 454.67 594.5 A47.96 47.96 0 0 0 534.00 594.5 L534.00 783 L137.33 783 Z" fill="url(#ovg373)" fill-opacity="0.34"/>
<path clip-path="url(#dclip373)" d="M71.00 594.5 A47.96 47.96 0 0 0 150.33 594.5 A47.96 47.96 0 0 0 229.67 594.5 A47.96 47.96 0 0 0 309.00 594.5 A47.96 47.96 0 0 0 388.33 594.5 A47.96 47.96 0 0 0 467.67 594.5 A47.96 47.96 0 0 0 547.00 594.5 L547.00 783 L71.00 783 Z" fill="rgb(83,183,237)" fill-opacity="0.62"/>
<g transform="translate(0,373)">
<ellipse cx="343.3" cy="323.4" rx="30.6" ry="12.6" fill="#1aa048" stroke="#cdeccd" stroke-width="1.6"/>
<text x="343.3" y="328" font-family="Liberation Sans, sans-serif" font-weight="bold" font-size="12.5" fill="#d8f5cf" text-anchor="middle" textLength="48" lengthAdjust="spacingAndGlyphs">Blagdon</text>
<circle cx="397.4" cy="282.3" r="32.3" fill="none" stroke="#2a2d22" stroke-width="3.6" stroke-dasharray="6.6 2.42" stroke-dashoffset="0.3" stroke-opacity="0.5"/>
<circle cx="397.4" cy="282.3" r="32.3" fill="none" stroke="#bfd672" stroke-width="2.6" stroke-dasharray="6 3.02"/>
</g>
<path d="M268.00 571.50 C268.50 570.50 265.17 559.25 263.00 554.00 C260.83 548.75 258.00 544.67 255.00 540.00 C252.00 535.33 248.50 530.50 245.00 526.00 C241.50 521.50 237.83 517.00 234.00 513.00 C230.17 509.00 226.00 505.33 222.00 502.00 C218.00 498.67 214.17 495.17 210.00 493.00 C205.83 490.83 200.42 489.08 197.00 489.00 C193.58 488.92 191.42 490.33 189.50 492.50 C187.58 494.67 185.75 499.08 185.50 502.00 C185.25 504.92 186.08 507.50 188.00 510.00 C189.92 512.50 192.83 514.50 197.00 517.00 C201.17 519.50 208.00 522.50 213.00 525.00 C218.00 527.50 222.50 529.33 227.00 532.00 C231.50 534.67 236.17 538.00 240.00 541.00 C243.83 544.00 246.67 546.83 250.00 550.00 C253.33 553.17 257.00 556.42 260.00 560.00 C263.00 563.58 267.50 572.50 268.00 571.50 Z" fill="#00adee"/>
<path d="M263.00 544.00 C261.83 543.83 259.17 537.33 257.00 534.00 C254.83 530.67 252.50 527.33 250.00 524.00 C247.50 520.67 244.33 517.00 242.00 514.00 C239.67 511.00 237.25 508.83 236.00 506.00 C234.75 503.17 234.00 500.00 234.50 497.00 C235.00 494.00 236.58 490.17 239.00 488.00 C241.42 485.83 245.83 484.17 249.00 484.00 C252.17 483.83 255.67 485.17 258.00 487.00 C260.33 488.83 262.00 492.00 263.00 495.00 C264.00 498.00 263.75 500.83 264.00 505.00 C264.25 509.17 264.50 515.00 264.50 520.00 C264.50 525.00 264.25 531.00 264.00 535.00 C263.75 539.00 264.17 544.17 263.00 544.00 Z" fill="#00adee"/>
<path d="M269.80 531.40 C269.37 530.47 269.42 520.40 269.20 515.00 C268.98 509.60 268.73 504.37 268.50 499.00 C268.27 493.63 267.80 487.80 267.80 482.80 C267.80 477.80 267.72 473.13 268.50 469.00 C269.28 464.87 270.48 460.53 272.50 458.00 C274.52 455.47 277.93 453.97 280.60 453.80 C283.27 453.63 286.70 455.13 288.50 457.00 C290.30 458.87 291.15 461.38 291.40 465.00 C291.65 468.62 291.20 474.17 290.00 478.70 C288.80 483.23 286.32 487.48 284.20 492.20 C282.08 496.92 279.37 502.27 277.30 507.00 C275.23 511.73 273.05 516.53 271.80 520.60 C270.55 524.67 270.23 532.33 269.80 531.40 Z" fill="#00adee"/>
<path d="M271.50 571.00 C271.18 568.30 270.45 556.47 270.60 550.30 C270.75 544.13 271.40 539.63 272.40 534.00 C273.40 528.37 274.78 521.83 276.60 516.50 C278.42 511.17 280.70 506.62 283.30 502.00 C285.90 497.38 289.33 492.12 292.20 488.80 C295.07 485.48 297.62 483.52 300.50 482.10 C303.38 480.68 306.83 480.27 309.50 480.30 C312.17 480.33 314.78 480.80 316.50 482.30 C318.22 483.80 319.95 486.48 319.80 489.30 C319.65 492.12 318.30 496.02 315.60 499.20 C312.90 502.38 307.40 504.83 303.60 508.40 C299.80 511.97 296.18 516.33 292.80 520.60 C289.42 524.87 286.00 529.05 283.30 534.00 C280.60 538.95 278.40 544.88 276.60 550.30 C274.80 555.72 273.35 563.05 272.50 566.50 C271.65 569.95 271.82 573.70 271.50 571.00 Z" fill="#00adee"/>
<path d="M275.50 571.00 C275.27 568.75 278.17 556.68 280.60 550.30 C283.03 543.92 286.50 538.10 290.10 532.70 C293.70 527.30 297.93 522.40 302.20 517.90 C306.47 513.40 310.75 509.53 315.70 505.70 C320.65 501.87 326.72 497.48 331.90 494.90 C337.08 492.32 342.97 490.53 346.80 490.20 C350.63 489.87 352.88 490.98 354.90 492.90 C356.92 494.82 358.90 498.43 358.90 501.70 C358.90 504.97 357.82 509.13 354.90 512.50 C351.98 515.87 346.80 518.75 341.40 521.90 C336.00 525.05 328.35 528.02 322.50 531.40 C316.65 534.78 311.25 538.60 306.30 542.20 C301.35 545.80 296.85 549.40 292.80 553.00 C288.75 556.60 284.88 560.80 282.00 563.80 C279.12 566.80 275.73 573.25 275.50 571.00 Z" fill="#00adee"/>
<line x1="432" y1="282.5" x2="596" y2="282.5" stroke="#b1cc66" stroke-width="2.6" stroke-dasharray="5 3.4"/>
<line x1="432" y1="655.7" x2="596" y2="655.7" stroke="#b1cc66" stroke-width="2.6" stroke-dasharray="5 3.4"/>
<g opacity="0.999">
<clipPath id="tc0a"><rect x="0" y="88" width="1000" height="54"/></clipPath>
<clipPath id="tc0b"><rect x="0" y="142" width="1000" height="26"/></clipPath>
<clipPath id="tc0c"><rect x="0" y="168" width="1000" height="30"/></clipPath>
<g clip-path="url(#tc0a)"><text transform="translate(0,-106.629) scale(1,1.8028)" x="84.80" y="168.00" font-family="Liberation Sans, sans-serif" font-size="53" fill="#7dc243" textLength="40.50" lengthAdjust="spacingAndGlyphs" font-weight="bold" stroke="#ffffff" stroke-width="0.3">A</text></g>
<g clip-path="url(#tc0b)"><text transform="translate(0,22.805) scale(1,0.8643)" x="84.80" y="168.00" font-family="Liberation Sans, sans-serif" font-size="53" fill="#7dc243" textLength="40.50" lengthAdjust="spacingAndGlyphs" font-weight="bold" stroke="#ffffff" stroke-width="0.3">A</text></g>
<g clip-path="url(#tc0c)"><text transform="translate(0,30.527) scale(1,0.8183)" x="84.80" y="168.00" font-family="Liberation Sans, sans-serif" font-size="53" fill="#7dc243" textLength="40.50" lengthAdjust="spacingAndGlyphs" font-weight="bold" stroke="#ffffff" stroke-width="0.3">A</text></g>
<clipPath id="tc1a"><rect x="0" y="88" width="1000" height="54"/></clipPath>
<clipPath id="tc1b"><rect x="0" y="142" width="1000" height="26"/></clipPath>
<clipPath id="tc1c"><rect x="0" y="168" width="1000" height="30"/></clipPath>
<g clip-path="url(#tc1a)"><text transform="translate(0,-106.629) scale(1,1.8028)" x="125.00" y="168.00" font-family="Liberation Sans, sans-serif" font-size="53" fill="#7dc243" textLength="73.20" lengthAdjust="spacingAndGlyphs" font-weight="bold" stroke="#ffffff" stroke-width="0.3">uto</text></g>
<g clip-path="url(#tc1b)"><text transform="translate(0,22.805) scale(1,0.8643)" x="125.00" y="168.00" font-family="Liberation Sans, sans-serif" font-size="53" fill="#7dc243" textLength="73.20" lengthAdjust="spacingAndGlyphs" font-weight="bold" stroke="#ffffff" stroke-width="0.3">uto</text></g>
<g clip-path="url(#tc1c)"><text transform="translate(0,30.527) scale(1,0.8183)" x="125.00" y="168.00" font-family="Liberation Sans, sans-serif" font-size="53" fill="#7dc243" textLength="73.20" lengthAdjust="spacingAndGlyphs" font-weight="bold" stroke="#ffffff" stroke-width="0.3">uto</text></g>
<clipPath id="tc2a"><rect x="0" y="88" width="1000" height="54"/></clipPath>
<clipPath id="tc2b"><rect x="0" y="142" width="1000" height="26"/></clipPath>
<clipPath id="tc2c"><rect x="0" y="168" width="1000" height="30"/></clipPath>
<g clip-path="url(#tc2a)"><text transform="translate(0,-106.629) scale(1,1.8028)" x="210.40" y="168.00" font-family="Liberation Sans, sans-serif" font-size="53" fill="#7dc243" textLength="169.18" lengthAdjust="spacingAndGlyphs" font-weight="bold" stroke="#ffffff" stroke-width="0.3">shut-off</text></g>
<g clip-path="url(#tc2b)"><text transform="translate(0,22.805) scale(1,0.8643)" x="210.40" y="168.00" font-family="Liberation Sans, sans-serif" font-size="53" fill="#7dc243" textLength="169.18" lengthAdjust="spacingAndGlyphs" font-weight="bold" stroke="#ffffff" stroke-width="0.3">shut-off</text></g>
<g clip-path="url(#tc2c)"><text transform="translate(0,30.527) scale(1,0.8183)" x="210.40" y="168.00" font-family="Liberation Sans, sans-serif" font-size="53" fill="#7dc243" textLength="169.18" lengthAdjust="spacingAndGlyphs" font-weight="bold" stroke="#ffffff" stroke-width="0.3">shut-off</text></g>
<clipPath id="tc3a"><rect x="0" y="88" width="1000" height="54"/></clipPath>
<clipPath id="tc3b"><rect x="0" y="142" width="1000" height="26"/></clipPath>
<clipPath id="tc3c"><rect x="0" y="168" width="1000" height="30"/></clipPath>
<g clip-path="url(#tc3a)"><text transform="translate(0,-106.629) scale(1,1.8028)" x="392.20" y="168.00" font-family="Liberation Sans, sans-serif" font-size="53" fill="#7dc243" textLength="165.66" lengthAdjust="spacingAndGlyphs" font-weight="bold" stroke="#ffffff" stroke-width="0.3">feature</text></g>
<g clip-path="url(#tc3b)"><text transform="translate(0,22.805) scale(1,0.8643)" x="392.20" y="168.00" font-family="Liberation Sans, sans-serif" font-size="53" fill="#7dc243" textLength="165.66" lengthAdjust="spacingAndGlyphs" font-weight="bold" stroke="#ffffff" stroke-width="0.3">feature</text></g>
<g clip-path="url(#tc3c)"><text transform="translate(0,30.527) scale(1,0.8183)" x="392.20" y="168.00" font-family="Liberation Sans, sans-serif" font-size="53" fill="#7dc243" textLength="165.66" lengthAdjust="spacingAndGlyphs" font-weight="bold" stroke="#ffffff" stroke-width="0.3">feature</text></g>
<clipPath id="tc4d"><rect x="0" y="88" width="588" height="110"/></clipPath>
<g clip-path="url(#tc4d)"><text transform="translate(0,-17.640) scale(1,1.1050)" x="573.00" y="168.00" font-family="Liberation Sans, sans-serif" font-size="45" fill="#7dc243" textLength="166.86" lengthAdjust="spacingAndGlyphs" stroke="#ffffff" stroke-width="0.2">(prevents</text></g>
<clipPath id="tc4a"><rect x="588" y="88" width="412" height="58"/></clipPath>
<clipPath id="tc4b"><rect x="588" y="146" width="412" height="22"/></clipPath>
<clipPath id="tc4c"><rect x="588" y="168" width="412" height="30"/></clipPath>
<g clip-path="url(#tc4a)"><text transform="translate(0,-114.382) scale(1,1.8227)" x="573.00" y="168.00" font-family="Liberation Sans, sans-serif" font-size="45" fill="#7dc243" textLength="166.86" lengthAdjust="spacingAndGlyphs" stroke="#ffffff" stroke-width="0.2">(prevents</text></g>
<g clip-path="url(#tc4b)"><text transform="translate(0,21.018) scale(1,0.8749)" x="573.00" y="168.00" font-family="Liberation Sans, sans-serif" font-size="45" fill="#7dc243" textLength="166.86" lengthAdjust="spacingAndGlyphs" stroke="#ffffff" stroke-width="0.2">(prevents</text></g>
<g clip-path="url(#tc4c)"><text transform="translate(0,-22.697) scale(1,1.1351)" x="573.00" y="168.00" font-family="Liberation Sans, sans-serif" font-size="45" fill="#7dc243" textLength="166.86" lengthAdjust="spacingAndGlyphs" stroke="#ffffff" stroke-width="0.2">(prevents</text></g>
<clipPath id="tc5e"><rect x="895" y="88" width="105" height="110"/></clipPath>
<g clip-path="url(#tc5e)"><text transform="translate(0,-17.640) scale(1,1.1050)" x="754.00" y="168.00" font-family="Liberation Sans, sans-serif" font-size="45" fill="#7dc243" textLength="153.43" lengthAdjust="spacingAndGlyphs" stroke="#ffffff" stroke-width="0.2">burnout)</text></g>
<clipPath id="tc5a"><rect x="0" y="88" width="895" height="58"/></clipPath>
<clipPath id="tc5b"><rect x="0" y="146" width="895" height="22"/></clipPath>
<clipPath id="tc5c"><rect x="0" y="168" width="895" height="30"/></clipPath>
<g clip-path="url(#tc5a)"><text transform="translate(0,-114.382) scale(1,1.8227)" x="754.00" y="168.00" font-family="Liberation Sans, sans-serif" font-size="45" fill="#7dc243" textLength="153.43" lengthAdjust="spacingAndGlyphs" stroke="#ffffff" stroke-width="0.2">burnout)</text></g>
<g clip-path="url(#tc5b)"><text transform="translate(0,21.018) scale(1,0.8749)" x="754.00" y="168.00" font-family="Liberation Sans, sans-serif" font-size="45" fill="#7dc243" textLength="153.43" lengthAdjust="spacingAndGlyphs" stroke="#ffffff" stroke-width="0.2">burnout)</text></g>
<g clip-path="url(#tc5c)"><text transform="translate(0,-22.697) scale(1,1.1351)" x="754.00" y="168.00" font-family="Liberation Sans, sans-serif" font-size="45" fill="#7dc243" textLength="153.43" lengthAdjust="spacingAndGlyphs" stroke="#ffffff" stroke-width="0.2">burnout)</text></g>
<clipPath id="tc6d"><rect x="0" y="184" width="633" height="110"/></clipPath>
<g clip-path="url(#tc6d)"><text transform="translate(0,-32.084) scale(1,1.1215)" x="611.20" y="264.00" font-family="Liberation Sans, sans-serif" font-size="35.5" fill="#231f20" textLength="124.00" lengthAdjust="spacingAndGlyphs" stroke="#ffffff" stroke-width="0.2">Sensors</text></g>
<clipPath id="tc6a"><rect x="633" y="184" width="367" height="61"/></clipPath>
<clipPath id="tc6b"><rect x="633" y="245" width="367" height="19"/></clipPath>
<clipPath id="tc6c"><rect x="633" y="264" width="367" height="30"/></clipPath>
<g clip-path="url(#tc6a)"><text transform="translate(0,-235.708) scale(1,1.9721)" x="611.20" y="264.00" font-family="Liberation Sans, sans-serif" font-size="35.5" fill="#231f20" textLength="124.00" lengthAdjust="spacingAndGlyphs" stroke="#ffffff" stroke-width="0.2">Sensors</text></g>
<g clip-path="url(#tc6b)"><text transform="translate(0,16.263) scale(1,0.9384)" x="611.20" y="264.00" font-family="Liberation Sans, sans-serif" font-size="35.5" fill="#231f20" textLength="124.00" lengthAdjust="spacingAndGlyphs" stroke="#ffffff" stroke-width="0.2">Sensors</text></g>
<g clip-path="url(#tc6c)"><text transform="translate(0,-80.023) scale(1,1.3031)" x="611.20" y="264.00" font-family="Liberation Sans, sans-serif" font-size="35.5" fill="#231f20" textLength="124.00" lengthAdjust="spacingAndGlyphs" stroke="#ffffff" stroke-width="0.2">Sensors</text></g>
<clipPath id="tc7a"><rect x="0" y="225" width="1000" height="61"/></clipPath>
<clipPath id="tc7b"><rect x="0" y="286" width="1000" height="19"/></clipPath>
<clipPath id="tc7c"><rect x="0" y="305" width="1000" height="30"/></clipPath>
<g clip-path="url(#tc7a)"><text transform="translate(0,-275.565) scale(1,1.9721)" x="611.00" y="305.00" font-family="Liberation Sans, sans-serif" font-size="35.5" fill="#231f20" textLength="214.00" lengthAdjust="spacingAndGlyphs" stroke="#ffffff" stroke-width="0.2">automatically</text></g>
<g clip-path="url(#tc7b)"><text transform="translate(0,18.789) scale(1,0.9384)" x="611.00" y="305.00" font-family="Liberation Sans, sans-serif" font-size="35.5" fill="#231f20" textLength="214.00" lengthAdjust="spacingAndGlyphs" stroke="#ffffff" stroke-width="0.2">automatically</text></g>
<g clip-path="url(#tc7c)"><text transform="translate(0,-92.451) scale(1,1.3031)" x="611.00" y="305.00" font-family="Liberation Sans, sans-serif" font-size="35.5" fill="#231f20" textLength="214.00" lengthAdjust="spacingAndGlyphs" stroke="#ffffff" stroke-width="0.2">automatically</text></g>
<clipPath id="tc8a"><rect x="0" y="266" width="1000" height="61"/></clipPath>
<clipPath id="tc8b"><rect x="0" y="327" width="1000" height="19"/></clipPath>
<clipPath id="tc8c"><rect x="0" y="346" width="1000" height="30"/></clipPath>
<g clip-path="url(#tc8a)"><text transform="translate(0,-315.421) scale(1,1.9721)" x="611.00" y="346.00" font-family="Liberation Sans, sans-serif" font-size="35.5" fill="#231f20" textLength="279.00" lengthAdjust="spacingAndGlyphs" stroke="#ffffff" stroke-width="0.2">turn <tspan font-weight="bold" stroke="#231f20" stroke-width="0.7">off</tspan> the pump</text></g>
<g clip-path="url(#tc8b)"><text transform="translate(0,21.314) scale(1,0.9384)" x="611.00" y="346.00" font-family="Liberation Sans, sans-serif" font-size="35.5" fill="#231f20" textLength="279.00" lengthAdjust="spacingAndGlyphs" stroke="#ffffff" stroke-width="0.2">turn <tspan font-weight="bold" stroke="#231f20" stroke-width="0.7">off</tspan> the pump</text></g>
<g clip-path="url(#tc8c)"><text transform="translate(0,-104.879) scale(1,1.3031)" x="611.00" y="346.00" font-family="Liberation Sans, sans-serif" font-size="35.5" fill="#231f20" textLength="279.00" lengthAdjust="spacingAndGlyphs" stroke="#ffffff" stroke-width="0.2">turn <tspan font-weight="bold" stroke="#231f20" stroke-width="0.7">off</tspan> the pump</text></g>
<clipPath id="tc9a"><rect x="0" y="307" width="1000" height="61"/></clipPath>
<clipPath id="tc9b"><rect x="0" y="368" width="1000" height="19"/></clipPath>
<clipPath id="tc9c"><rect x="0" y="387" width="1000" height="30"/></clipPath>
<g clip-path="url(#tc9a)"><text transform="translate(0,-355.278) scale(1,1.9721)" x="612.00" y="387.00" font-family="Liberation Sans, sans-serif" font-size="35.5" fill="#231f20" textLength="245.50" lengthAdjust="spacingAndGlyphs" stroke="#ffffff" stroke-width="0.2">when the water</text></g>
<g clip-path="url(#tc9b)"><text transform="translate(0,23.840) scale(1,0.9384)" x="612.00" y="387.00" font-family="Liberation Sans, sans-serif" font-size="35.5" fill="#231f20" textLength="245.50" lengthAdjust="spacingAndGlyphs" stroke="#ffffff" stroke-width="0.2">when the water</text></g>
<g clip-path="url(#tc9c)"><text transform="translate(0,-117.307) scale(1,1.3031)" x="612.00" y="387.00" font-family="Liberation Sans, sans-serif" font-size="35.5" fill="#231f20" textLength="245.50" lengthAdjust="spacingAndGlyphs" stroke="#ffffff" stroke-width="0.2">when the water</text></g>
<clipPath id="tc10a"><rect x="0" y="348" width="1000" height="61"/></clipPath>
<clipPath id="tc10b"><rect x="0" y="409" width="1000" height="19"/></clipPath>
<clipPath id="tc10c"><rect x="0" y="428" width="1000" height="30"/></clipPath>
<g clip-path="url(#tc10a)"><text transform="translate(0,-395.135) scale(1,1.9721)" x="610.00" y="428.00" font-family="Liberation Sans, sans-serif" font-size="35.5" fill="#231f20" textLength="174.50" lengthAdjust="spacingAndGlyphs" stroke="#ffffff" stroke-width="0.2">level is low</text></g>
<g clip-path="url(#tc10b)"><text transform="translate(0,26.366) scale(1,0.9384)" x="610.00" y="428.00" font-family="Liberation Sans, sans-serif" font-size="35.5" fill="#231f20" textLength="174.50" lengthAdjust="spacingAndGlyphs" stroke="#ffffff" stroke-width="0.2">level is low</text></g>
<g clip-path="url(#tc10c)"><text transform="translate(0,-129.735) scale(1,1.3031)" x="610.00" y="428.00" font-family="Liberation Sans, sans-serif" font-size="35.5" fill="#231f20" textLength="174.50" lengthAdjust="spacingAndGlyphs" stroke="#ffffff" stroke-width="0.2">level is low</text></g>
<clipPath id="tc11d"><rect x="0" y="557" width="633" height="110"/></clipPath>
<g clip-path="url(#tc11d)"><text transform="translate(0,-77.414) scale(1,1.1215)" x="611.20" y="637.00" font-family="Liberation Sans, sans-serif" font-size="35.5" fill="#231f20" textLength="124.00" lengthAdjust="spacingAndGlyphs" stroke="#ffffff" stroke-width="0.2">Sensors</text></g>
<clipPath id="tc11a"><rect x="633" y="557" width="367" height="61"/></clipPath>
<clipPath id="tc11b"><rect x="633" y="618" width="367" height="19"/></clipPath>
<clipPath id="tc11c"><rect x="633" y="637" width="367" height="30"/></clipPath>
<g clip-path="url(#tc11a)"><text transform="translate(0,-598.307) scale(1,1.9721)" x="611.20" y="637.00" font-family="Liberation Sans, sans-serif" font-size="35.5" fill="#231f20" textLength="124.00" lengthAdjust="spacingAndGlyphs" stroke="#ffffff" stroke-width="0.2">Sensors</text></g>
<g clip-path="url(#tc11b)"><text transform="translate(0,39.241) scale(1,0.9384)" x="611.20" y="637.00" font-family="Liberation Sans, sans-serif" font-size="35.5" fill="#231f20" textLength="124.00" lengthAdjust="spacingAndGlyphs" stroke="#ffffff" stroke-width="0.2">Sensors</text></g>
<g clip-path="url(#tc11c)"><text transform="translate(0,-193.086) scale(1,1.3031)" x="611.20" y="637.00" font-family="Liberation Sans, sans-serif" font-size="35.5" fill="#231f20" textLength="124.00" lengthAdjust="spacingAndGlyphs" stroke="#ffffff" stroke-width="0.2">Sensors</text></g>
<clipPath id="tc12a"><rect x="0" y="598" width="1000" height="61"/></clipPath>
<clipPath id="tc12b"><rect x="0" y="659" width="1000" height="19"/></clipPath>
<clipPath id="tc12c"><rect x="0" y="678" width="1000" height="30"/></clipPath>
<g clip-path="url(#tc12a)"><text transform="translate(0,-638.163) scale(1,1.9721)" x="611.00" y="678.00" font-family="Liberation Sans, sans-serif" font-size="35.5" fill="#231f20" textLength="214.00" lengthAdjust="spacingAndGlyphs" stroke="#ffffff" stroke-width="0.2">automatically</text></g>
<g clip-path="url(#tc12b)"><text transform="translate(0,41.766) scale(1,0.9384)" x="611.00" y="678.00" font-family="Liberation Sans, sans-serif" font-size="35.5" fill="#231f20" textLength="214.00" lengthAdjust="spacingAndGlyphs" stroke="#ffffff" stroke-width="0.2">automatically</text></g>
<g clip-path="url(#tc12c)"><text transform="translate(0,-205.514) scale(1,1.3031)" x="611.00" y="678.00" font-family="Liberation Sans, sans-serif" font-size="35.5" fill="#231f20" textLength="214.00" lengthAdjust="spacingAndGlyphs" stroke="#ffffff" stroke-width="0.2">automatically</text></g>
<clipPath id="tc13a"><rect x="0" y="639" width="1000" height="61"/></clipPath>
<clipPath id="tc13b"><rect x="0" y="700" width="1000" height="19"/></clipPath>
<clipPath id="tc13c"><rect x="0" y="719" width="1000" height="30"/></clipPath>
<g clip-path="url(#tc13a)"><text transform="translate(0,-678.020) scale(1,1.9721)" x="611.00" y="719.00" font-family="Liberation Sans, sans-serif" font-size="35.5" fill="#231f20" textLength="274.50" lengthAdjust="spacingAndGlyphs" stroke="#ffffff" stroke-width="0.2">turn <tspan font-weight="bold" stroke="#231f20" stroke-width="0.7">on</tspan> the pump</text></g>
<g clip-path="url(#tc13b)"><text transform="translate(0,44.292) scale(1,0.9384)" x="611.00" y="719.00" font-family="Liberation Sans, sans-serif" font-size="35.5" fill="#231f20" textLength="274.50" lengthAdjust="spacingAndGlyphs" stroke="#ffffff" stroke-width="0.2">turn <tspan font-weight="bold" stroke="#231f20" stroke-width="0.7">on</tspan> the pump</text></g>
<g clip-path="url(#tc13c)"><text transform="translate(0,-217.942) scale(1,1.3031)" x="611.00" y="719.00" font-family="Liberation Sans, sans-serif" font-size="35.5" fill="#231f20" textLength="274.50" lengthAdjust="spacingAndGlyphs" stroke="#ffffff" stroke-width="0.2">turn <tspan font-weight="bold" stroke="#231f20" stroke-width="0.7">on</tspan> the pump</text></g>
<clipPath id="tc14a"><rect x="0" y="680" width="1000" height="61"/></clipPath>
<clipPath id="tc14b"><rect x="0" y="741" width="1000" height="19"/></clipPath>
<clipPath id="tc14c"><rect x="0" y="760" width="1000" height="30"/></clipPath>
<g clip-path="url(#tc14a)"><text transform="translate(0,-717.877) scale(1,1.9721)" x="612.00" y="760.00" font-family="Liberation Sans, sans-serif" font-size="35.5" fill="#231f20" textLength="245.50" lengthAdjust="spacingAndGlyphs" stroke="#ffffff" stroke-width="0.2">when the water</text></g>
<g clip-path="url(#tc14b)"><text transform="translate(0,46.818) scale(1,0.9384)" x="612.00" y="760.00" font-family="Liberation Sans, sans-serif" font-size="35.5" fill="#231f20" textLength="245.50" lengthAdjust="spacingAndGlyphs" stroke="#ffffff" stroke-width="0.2">when the water</text></g>
<g clip-path="url(#tc14c)"><text transform="translate(0,-230.370) scale(1,1.3031)" x="612.00" y="760.00" font-family="Liberation Sans, sans-serif" font-size="35.5" fill="#231f20" textLength="245.50" lengthAdjust="spacingAndGlyphs" stroke="#ffffff" stroke-width="0.2">when the water</text></g>
<clipPath id="tc15a"><rect x="0" y="721" width="1000" height="61"/></clipPath>
<clipPath id="tc15b"><rect x="0" y="782" width="1000" height="19"/></clipPath>
<clipPath id="tc15c"><rect x="0" y="801" width="1000" height="30"/></clipPath>
<g clip-path="url(#tc15a)"><text transform="translate(0,-757.733) scale(1,1.9721)" x="609.00" y="801.00" font-family="Liberation Sans, sans-serif" font-size="35.5" fill="#231f20" textLength="200.00" lengthAdjust="spacingAndGlyphs" stroke="#ffffff" stroke-width="0.2">is topped up</text></g>
<g clip-path="url(#tc15b)"><text transform="translate(0,49.343) scale(1,0.9384)" x="609.00" y="801.00" font-family="Liberation Sans, sans-serif" font-size="35.5" fill="#231f20" textLength="200.00" lengthAdjust="spacingAndGlyphs" stroke="#ffffff" stroke-width="0.2">is topped up</text></g>
<g clip-path="url(#tc15c)"><text transform="translate(0,-242.798) scale(1,1.3031)" x="609.00" y="801.00" font-family="Liberation Sans, sans-serif" font-size="35.5" fill="#231f20" textLength="200.00" lengthAdjust="spacingAndGlyphs" stroke="#ffffff" stroke-width="0.2">is topped up</text></g>
<clipPath id="tc16a"><rect x="0" y="814" width="1000" height="61"/></clipPath>
<clipPath id="tc16b"><rect x="0" y="875" width="1000" height="19"/></clipPath>
<clipPath id="tc16c"><rect x="0" y="894" width="1000" height="30"/></clipPath>
<g clip-path="url(#tc16a)"><text transform="translate(0,-848.140) scale(1,1.9721)" x="56.00" y="894.00" font-family="Liberation Sans, sans-serif" font-size="35.5" fill="#231f20" textLength="82.06" lengthAdjust="spacingAndGlyphs" stroke="#d1d2d4" stroke-width="0.35">Level</text></g>
<g clip-path="url(#tc16b)"><text transform="translate(0,55.072) scale(1,0.9384)" x="56.00" y="894.00" font-family="Liberation Sans, sans-serif" font-size="35.5" fill="#231f20" textLength="82.06" lengthAdjust="spacingAndGlyphs" stroke="#d1d2d4" stroke-width="0.35">Level</text></g>
<g clip-path="url(#tc16c)"><text transform="translate(0,-270.988) scale(1,1.3031)" x="56.00" y="894.00" font-family="Liberation Sans, sans-serif" font-size="35.5" fill="#231f20" textLength="82.06" lengthAdjust="spacingAndGlyphs" stroke="#d1d2d4" stroke-width="0.35">Level</text></g>
<clipPath id="tc17a"><rect x="0" y="814" width="1000" height="61"/></clipPath>
<clipPath id="tc17b"><rect x="0" y="875" width="1000" height="19"/></clipPath>
<clipPath id="tc17c"><rect x="0" y="894" width="1000" height="30"/></clipPath>
<g clip-path="url(#tc17a)"><text transform="translate(0,-848.140) scale(1,1.9721)" x="146.00" y="894.00" font-family="Liberation Sans, sans-serif" font-size="35.5" fill="#231f20" textLength="117.54" lengthAdjust="spacingAndGlyphs" stroke="#d1d2d4" stroke-width="0.35">surface</text></g>
<g clip-path="url(#tc17b)"><text transform="translate(0,55.072) scale(1,0.9384)" x="146.00" y="894.00" font-family="Liberation Sans, sans-serif" font-size="35.5" fill="#231f20" textLength="117.54" lengthAdjust="spacingAndGlyphs" stroke="#d1d2d4" stroke-width="0.35">surface</text></g>
<g clip-path="url(#tc17c)"><text transform="translate(0,-270.988) scale(1,1.3031)" x="146.00" y="894.00" font-family="Liberation Sans, sans-serif" font-size="35.5" fill="#231f20" textLength="117.54" lengthAdjust="spacingAndGlyphs" stroke="#d1d2d4" stroke-width="0.35">surface</text></g>
<clipPath id="tc18a"><rect x="0" y="814" width="1000" height="61"/></clipPath>
<clipPath id="tc18b"><rect x="0" y="875" width="1000" height="19"/></clipPath>
<clipPath id="tc18c"><rect x="0" y="894" width="1000" height="30"/></clipPath>
<g clip-path="url(#tc18a)"><text transform="translate(0,-848.140) scale(1,1.9721)" x="272.00" y="894.00" font-family="Liberation Sans, sans-serif" font-size="35.5" fill="#231f20" textLength="136.22" lengthAdjust="spacingAndGlyphs" stroke="#d1d2d4" stroke-width="0.35">required</text></g>
<g clip-path="url(#tc18b)"><text transform="translate(0,55.072) scale(1,0.9384)" x="272.00" y="894.00" font-family="Liberation Sans, sans-serif" font-size="35.5" fill="#231f20" textLength="136.22" lengthAdjust="spacingAndGlyphs" stroke="#d1d2d4" stroke-width="0.35">required</text></g>
<g clip-path="url(#tc18c)"><text transform="translate(0,-270.988) scale(1,1.3031)" x="272.00" y="894.00" font-family="Liberation Sans, sans-serif" font-size="35.5" fill="#231f20" textLength="136.22" lengthAdjust="spacingAndGlyphs" stroke="#d1d2d4" stroke-width="0.35">required</text></g>
<clipPath id="tc19a"><rect x="0" y="814" width="1000" height="61"/></clipPath>
<clipPath id="tc19b"><rect x="0" y="875" width="1000" height="19"/></clipPath>
<clipPath id="tc19c"><rect x="0" y="894" width="1000" height="30"/></clipPath>
<g clip-path="url(#tc19a)"><text transform="translate(0,-848.140) scale(1,1.9721)" x="417.00" y="894.00" font-family="Liberation Sans, sans-serif" font-size="35.5" fill="#231f20" textLength="44.50" lengthAdjust="spacingAndGlyphs" stroke="#d1d2d4" stroke-width="0.35">for</text></g>
<g clip-path="url(#tc19b)"><text transform="translate(0,55.072) scale(1,0.9384)" x="417.00" y="894.00" font-family="Liberation Sans, sans-serif" font-size="35.5" fill="#231f20" textLength="44.50" lengthAdjust="spacingAndGlyphs" stroke="#d1d2d4" stroke-width="0.35">for</text></g>
<g clip-path="url(#tc19c)"><text transform="translate(0,-270.988) scale(1,1.3031)" x="417.00" y="894.00" font-family="Liberation Sans, sans-serif" font-size="35.5" fill="#231f20" textLength="44.50" lengthAdjust="spacingAndGlyphs" stroke="#d1d2d4" stroke-width="0.35">for</text></g>
<clipPath id="tc20a"><rect x="0" y="814" width="1000" height="61"/></clipPath>
<clipPath id="tc20b"><rect x="0" y="875" width="1000" height="19"/></clipPath>
<clipPath id="tc20c"><rect x="0" y="894" width="1000" height="30"/></clipPath>
<g clip-path="url(#tc20a)"><text transform="translate(0,-848.140) scale(1,1.9721)" x="472.40" y="894.00" font-family="Liberation Sans, sans-serif" font-size="35.5" fill="#231f20" textLength="117.11" lengthAdjust="spacingAndGlyphs" stroke="#d1d2d4" stroke-width="0.35">sensors</text></g>
<g clip-path="url(#tc20b)"><text transform="translate(0,55.072) scale(1,0.9384)" x="472.40" y="894.00" font-family="Liberation Sans, sans-serif" font-size="35.5" fill="#231f20" textLength="117.11" lengthAdjust="spacingAndGlyphs" stroke="#d1d2d4" stroke-width="0.35">sensors</text></g>
<g clip-path="url(#tc20c)"><text transform="translate(0,-270.988) scale(1,1.3031)" x="472.40" y="894.00" font-family="Liberation Sans, sans-serif" font-size="35.5" fill="#231f20" textLength="117.11" lengthAdjust="spacingAndGlyphs" stroke="#d1d2d4" stroke-width="0.35">sensors</text></g>
<clipPath id="tc21a"><rect x="0" y="814" width="1000" height="61"/></clipPath>
<clipPath id="tc21b"><rect x="0" y="875" width="1000" height="19"/></clipPath>
<clipPath id="tc21c"><rect x="0" y="894" width="1000" height="30"/></clipPath>
<g clip-path="url(#tc21a)"><text transform="translate(0,-848.140) scale(1,1.9721)" x="599.00" y="894.00" font-family="Liberation Sans, sans-serif" font-size="35.5" fill="#231f20" textLength="33.20" lengthAdjust="spacingAndGlyphs" stroke="#d1d2d4" stroke-width="0.35">to</text></g>
<g clip-path="url(#tc21b)"><text transform="translate(0,55.072) scale(1,0.9384)" x="599.00" y="894.00" font-family="Liberation Sans, sans-serif" font-size="35.5" fill="#231f20" textLength="33.20" lengthAdjust="spacingAndGlyphs" stroke="#d1d2d4" stroke-width="0.35">to</text></g>
<g clip-path="url(#tc21c)"><text transform="translate(0,-270.988) scale(1,1.3031)" x="599.00" y="894.00" font-family="Liberation Sans, sans-serif" font-size="35.5" fill="#231f20" textLength="33.20" lengthAdjust="spacingAndGlyphs" stroke="#d1d2d4" stroke-width="0.35">to</text></g>
<clipPath id="tc22a"><rect x="0" y="814" width="1000" height="61"/></clipPath>
<clipPath id="tc22b"><rect x="0" y="875" width="1000" height="19"/></clipPath>
<clipPath id="tc22c"><rect x="0" y="894" width="1000" height="30"/></clipPath>
<g clip-path="url(#tc22a)"><text transform="translate(0,-848.140) scale(1,1.9721)" x="638.20" y="894.00" font-family="Liberation Sans, sans-serif" font-size="35.5" fill="#231f20" textLength="126.08" lengthAdjust="spacingAndGlyphs" stroke="#d1d2d4" stroke-width="0.35">function</text></g>
<g clip-path="url(#tc22b)"><text transform="translate(0,55.072) scale(1,0.9384)" x="638.20" y="894.00" font-family="Liberation Sans, sans-serif" font-size="35.5" fill="#231f20" textLength="126.08" lengthAdjust="spacingAndGlyphs" stroke="#d1d2d4" stroke-width="0.35">function</text></g>
<g clip-path="url(#tc22c)"><text transform="translate(0,-270.988) scale(1,1.3031)" x="638.20" y="894.00" font-family="Liberation Sans, sans-serif" font-size="35.5" fill="#231f20" textLength="126.08" lengthAdjust="spacingAndGlyphs" stroke="#d1d2d4" stroke-width="0.35">function</text></g>
<clipPath id="tc23a"><rect x="0" y="814" width="1000" height="61"/></clipPath>
<clipPath id="tc23b"><rect x="0" y="875" width="1000" height="19"/></clipPath>
<clipPath id="tc23c"><rect x="0" y="894" width="1000" height="30"/></clipPath>
<g clip-path="url(#tc23a)"><text transform="translate(0,-848.140) scale(1,1.9721)" x="772.00" y="894.00" font-family="Liberation Sans, sans-serif" font-size="35.5" fill="#231f20" textLength="137.34" lengthAdjust="spacingAndGlyphs" stroke="#d1d2d4" stroke-width="0.35">properly</text></g>
<g clip-path="url(#tc23b)"><text transform="translate(0,55.072) scale(1,0.9384)" x="772.00" y="894.00" font-family="Liberation Sans, sans-serif" font-size="35.5" fill="#231f20" textLength="137.34" lengthAdjust="spacingAndGlyphs" stroke="#d1d2d4" stroke-width="0.35">properly</text></g>
<g clip-path="url(#tc23c)"><text transform="translate(0,-270.988) scale(1,1.3031)" x="772.00" y="894.00" font-family="Liberation Sans, sans-serif" font-size="35.5" fill="#231f20" textLength="137.34" lengthAdjust="spacingAndGlyphs" stroke="#d1d2d4" stroke-width="0.35">properly</text></g>
</g>
</svg></body></html>
